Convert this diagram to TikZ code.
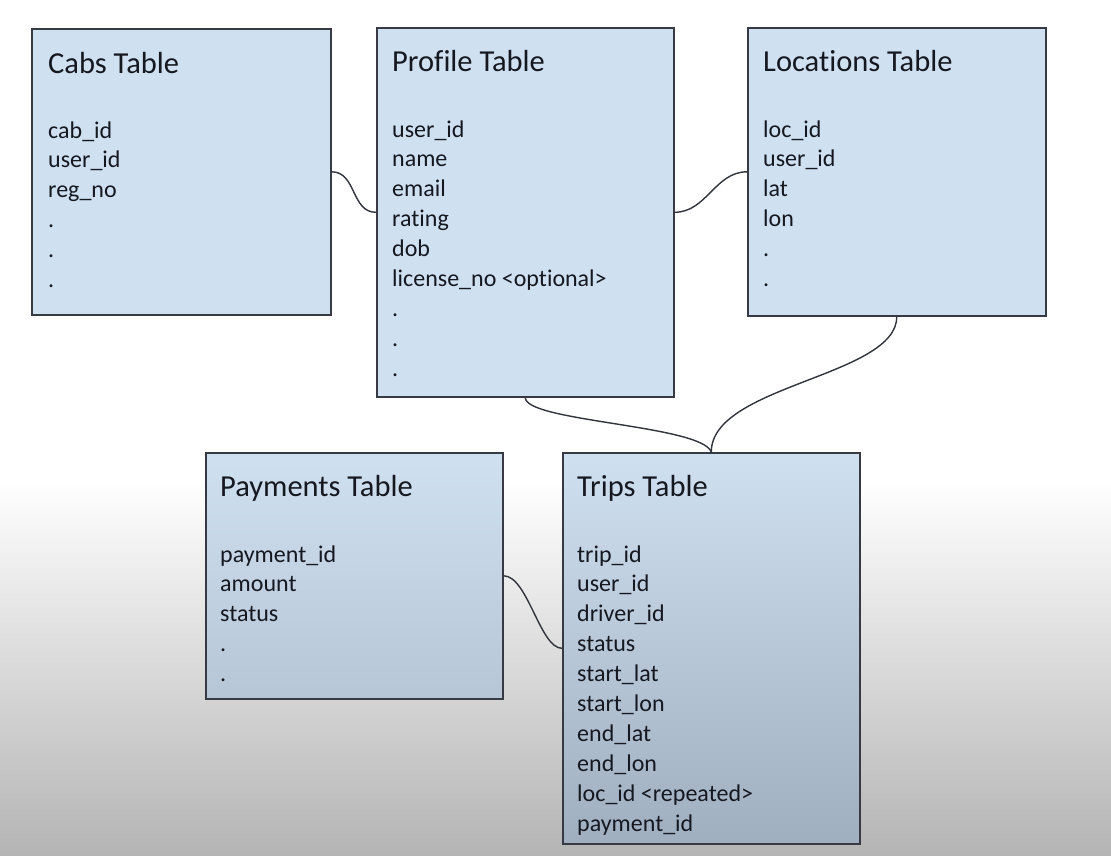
\documentclass[tikz,border=0pt]{standalone}
\usepackage{fontspec}
\setmainfont{Carlito}[Ligatures={NoCommon}]
\definecolor{boxblue}{RGB}{207,224,241}
\definecolor{boxline}{RGB}{55,58,66}
\definecolor{txt}{RGB}{22,24,32}
\definecolor{bggrey}{RGB}{180,180,180}
\definecolor{paybot}{RGB}{183,198,214}
\definecolor{tripbot}{RGB}{160,175,192}
\tikzset{
  tbox/.style={draw=boxline, line width=1.6pt, inner sep=0pt, anchor=north west},
  ttitle/.style={anchor=base west, inner sep=0pt, text=txt, font=\fontsize{30.5}{33}\selectfont},
  tfield/.style={anchor=base west, inner sep=0pt, text=txt, font=\fontsize{24}{27}\selectfont},
  link/.style={draw=boxline!90!black, line width=1.4pt}
}
\begin{document}
\begin{tikzpicture}[x=1pt,y=-1pt]
\useasboundingbox (0,0) rectangle (1111,855);
\fill[white] (0,0) rectangle (1111,855);
\shade[top color=white, bottom color=bggrey] (0,480) rectangle (1111,856);

% boxes
\node[tbox, fill=boxblue, minimum width=299pt, minimum height=286pt] (cabs) at (31,28) {};
\node[tbox, fill=boxblue, minimum width=297pt, minimum height=369pt] (profile) at (376,27) {};
\node[tbox, fill=boxblue, minimum width=298pt, minimum height=288pt] (locations) at (747,27) {};
\node[tbox, top color=boxblue, bottom color=paybot, minimum width=297pt, minimum height=246pt] (payments) at (205,452) {};
\node[tbox, top color=boxblue, bottom color=tripbot, minimum width=297pt, minimum height=391pt] (trips) at (562,452) {};

% titles
\node[ttitle] (cabs-t) at (48,73) {Cabs Table};
\node[ttitle] (profile-t) at (392,71) {Profile Table};
\node[ttitle] (locations-t) at (763,71) {Locations Table};
\node[ttitle] (payments-t) at (220,496) {Payments Table};
\node[ttitle] (trips-t) at (577,496) {Trips Table};

% fields
\foreach[count=\i] \t in {cab\_id, user\_id, reg\_no, ., ., .}
  \node[tfield] (cabs-f\i) at (48,{138+29.9*(\i-1)}) {\t};
\foreach[count=\i] \t in {user\_id, name, email, rating, dob, license\_no <optional>, ., ., .}
  \node[tfield] (profile-f\i) at (392,{137+29.9*(\i-1)}) {\t};
\foreach[count=\i] \t in {loc\_id, user\_id, lat, lon, ., .}
  \node[tfield] (locations-f\i) at (763,{137+29.9*(\i-1)}) {\t};
\foreach[count=\i] \t in {payment\_id, amount, status, ., .}
  \node[tfield] (payments-f\i) at (220,{562+29.9*(\i-1)}) {\t};
\foreach[count=\i] \t in {trip\_id, user\_id, driver\_id, status, start\_lat, start\_lon, end\_lat, end\_lon, loc\_id <repeated>, payment\_id}
  \node[tfield] (trips-f\i) at (577,{562+29.9*(\i-1)}) {\t};

% connectors
\draw[link] (cabs.east) .. controls +(25,0) and +(-25,0) .. (profile.west);
\draw[link] (profile.east) .. controls +(32,0) and +(-32,0) .. (locations.west);
\draw[link] (profile.south) .. controls +(0,24) and +(-10,-27) .. (trips.north);
\draw[link] (locations.south) .. controls +(0,60) and +(0,-67) .. (trips.north);
\draw[link] (payments.east) .. controls +(24,0) and +(-22,0) .. (trips.west);
\end{tikzpicture}
\end{document}
